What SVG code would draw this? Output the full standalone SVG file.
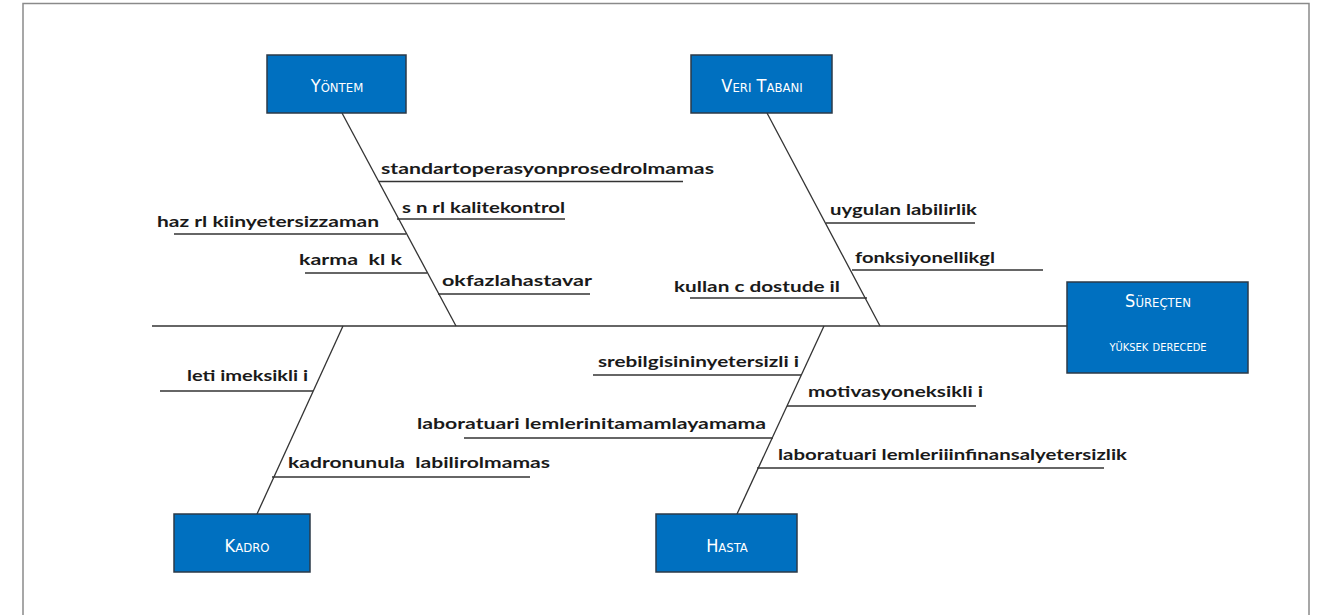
<svg xmlns="http://www.w3.org/2000/svg" width="1320" height="615" viewBox="0 0 1320 615">
<style>
.box{fill:#0070C0;stroke:#2b3a48;stroke-width:1.5}
.bt{fill:#fff;font-family:"DejaVu Sans Condensed","DejaVu Sans",sans-serif;font-variant:small-caps;font-size:18px;text-anchor:middle}
.ln{stroke:#333;stroke-width:1.3;fill:none}
.lb{fill:#1a1a1a;font-family:Lato,"Liberation Sans",sans-serif;font-weight:bold;font-size:16px;white-space:pre}
</style>
<rect x="23" y="3.5" width="1286" height="620" fill="#fff" stroke="#8a8a8a" stroke-width="1.5"/>
<g id="connectors">
<line class="ln" x1="152" y1="326" x2="1067" y2="326"/>
<line class="ln" x1="342" y1="113" x2="456" y2="326"/>
<line class="ln" x1="767" y1="113" x2="880" y2="326"/>
<line class="ln" x1="343" y1="326" x2="257" y2="514"/>
<line class="ln" x1="824" y1="326" x2="737" y2="514"/>
<line class="ln" x1="379" y1="181.5" x2="683" y2="181.5"/>
<line class="ln" x1="397" y1="219" x2="565" y2="219"/>
<line class="ln" x1="174" y1="234" x2="406" y2="234"/>
<line class="ln" x1="305" y1="273" x2="427" y2="273"/>
<line class="ln" x1="438" y1="294" x2="590" y2="294"/>
<line class="ln" x1="826" y1="223" x2="975" y2="223"/>
<line class="ln" x1="852" y1="270" x2="1043" y2="270"/>
<line class="ln" x1="690" y1="298" x2="867" y2="298"/>
<line class="ln" x1="160" y1="391" x2="313" y2="391"/>
<line class="ln" x1="272" y1="477" x2="530" y2="477"/>
<line class="ln" x1="593" y1="375" x2="801" y2="375"/>
<line class="ln" x1="787" y1="406" x2="976" y2="406"/>
<line class="ln" x1="464" y1="438" x2="773" y2="438"/>
<line class="ln" x1="757" y1="468" x2="1104" y2="468"/>
</g>
<g id="labels">
<text class="lb" x="381" y="174" textLength="333" lengthAdjust="spacingAndGlyphs">standartoperasyonprosedrolmamas</text>
<text class="lb" x="402" y="213" textLength="163" lengthAdjust="spacingAndGlyphs">s n rl kalitekontrol</text>
<text class="lb" x="157" y="227" textLength="222" lengthAdjust="spacingAndGlyphs">haz rl kiinyetersizzaman</text>
<text class="lb" x="299" y="265" textLength="103" lengthAdjust="spacingAndGlyphs" xml:space="preserve">karma  kl k</text>
<text class="lb" x="442" y="286" textLength="150" lengthAdjust="spacingAndGlyphs">okfazlahastavar</text>
<text class="lb" x="830" y="215" textLength="147" lengthAdjust="spacingAndGlyphs">uygulan labilirlik</text>
<text class="lb" x="855" y="263" textLength="140" lengthAdjust="spacingAndGlyphs">fonksiyonellikgl</text>
<text class="lb" x="674" y="292" textLength="166" lengthAdjust="spacingAndGlyphs">kullan c dostude il</text>
<text class="lb" x="187" y="381" textLength="121" lengthAdjust="spacingAndGlyphs">leti imeksikli i</text>
<text class="lb" x="288" y="468" textLength="262" lengthAdjust="spacingAndGlyphs" xml:space="preserve">kadronunula  labilirolmamas</text>
<text class="lb" x="598" y="367" textLength="201" lengthAdjust="spacingAndGlyphs">srebilgisininyetersizli i</text>
<text class="lb" x="808" y="397" textLength="175" lengthAdjust="spacingAndGlyphs">motivasyoneksikli i</text>
<text class="lb" x="417" y="429" textLength="349" lengthAdjust="spacingAndGlyphs">laboratuari lemlerinitamamlayamama</text>
<text class="lb" x="778" y="460" textLength="349" lengthAdjust="spacingAndGlyphs">laboratuari lemleriiinfinansalyetersizlik</text>
</g>
<g id="yontem">
<rect class="box" x="267" y="55" width="139" height="58"/>
<text class="bt" x="337" y="92">Yöntem</text>
</g>
<g id="veri-tabani">
<rect class="box" x="691" y="55" width="141" height="58"/>
<text class="bt" x="762" y="92">Veri Tabanı</text>
</g>
<g id="surecten">
<rect class="box" x="1067" y="282" width="181" height="91"/>
<text class="bt" x="1158" y="307">Süreçten</text>
<text class="bt" x="1158" y="351" style="font-size:15px">yüksek derecede</text>
</g>
<g id="kadro">
<rect class="box" x="174" y="514" width="136" height="58"/>
<text class="bt" x="247" y="552">Kadro</text>
</g>
<g id="hasta">
<rect class="box" x="656" y="514" width="141" height="58"/>
<text class="bt" x="727" y="552">Hasta</text>
</g>
</svg>
